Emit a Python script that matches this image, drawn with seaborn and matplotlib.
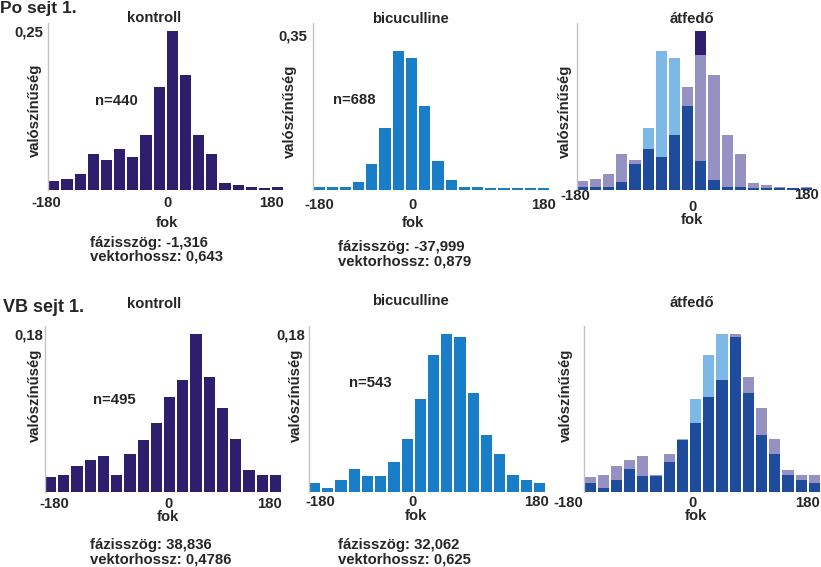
import numpy as np
import matplotlib
matplotlib.use("Agg")
import matplotlib.pyplot as plt
import seaborn as sns

# ---------------- data (probability per 20° bin, -180..180) ----------------
bin_centers = np.arange(-170, 180, 20)

kontroll_po = [0.0142, 0.0163, 0.0242, 0.0553, 0.0463, 0.0632, 0.0516, 0.0858, 0.1621,
               0.2500, 0.1816, 0.0858, 0.0568, 0.0105, 0.0074, 0.0047, 0.0026, 0.0042]
bicu_po = [0.0053, 0.0053, 0.0053, 0.0166, 0.0575, 0.1383, 0.3145, 0.2986, 0.1897,
           0.0650, 0.0204, 0.0060, 0.0060, 0.0023, 0.0023, 0.0023, 0.0023, 0.0023]
kontroll_vb = [0.0160, 0.0191, 0.0294, 0.0358, 0.0408, 0.0191, 0.0427, 0.0587, 0.0782,
               0.1083, 0.1278, 0.1800, 0.1304, 0.0953, 0.0599, 0.0244, 0.0191, 0.0191]
bicu_vb = [0.0095, 0.0038, 0.0130, 0.0256, 0.0172, 0.0172, 0.0332, 0.0603, 0.1056,
           0.1564, 0.1800, 0.1762, 0.1121, 0.0645, 0.0427, 0.0191, 0.0130, 0.0095]

row_titles = ["Po sejt 1.", "VB sejt 1."]
panel_titles = ["kontroll", "bicuculline", "átfedő"]
n_labels = {"po": ["n=440", "n=688"], "vb": ["n=495", "n=543"]}
ytick_vals = {"po": [0.25, 0.35], "vb": [0.18, 0.18]}
ytick_texts = {"po": ["0,25", "0,35"], "vb": ["0,18", "0,18"]}
stats_po = [("fázisszög: -1,316", "vektorhossz: 0,643"), ("fázisszög: -37,999", "vektorhossz: 0,879")]
stats_vb = [("fázisszög: 38,836", "vektorhossz: 0,4786"), ("fázisszög: 32,062", "vektorhossz: 0,625")]
xtick_texts = ["-180", "0", "180"]

# ---------------- style ----------------
sns.set_theme(style="white")
plt.rcParams["font.family"] = ["Liberation Sans", "DejaVu Sans"]
plt.rcParams["font.weight"] = "bold"
FS = 10.7

C_KON = "#2d1f6e"
C_BIC = "#1a7dc8"
C_LAV = "#9691c3"
C_LB = "#7db9e6"
C_DARK = "#1e4b9b"
C_SPINE = "#c4c4c4"

W, H = 821, 567
fig = plt.figure(figsize=(W / 100, H / 100), dpi=100)
fig.patch.set_facecolor("white")


def add_ax(left, top, right, bottom):
    return fig.add_axes([left / W, 1 - bottom / H, (right - left) / W, (bottom - top) / H])


def bars(ax, heights, color):
    sns.barplot(x=bin_centers, y=heights, native_scale=True, width=0.85, color=color,
                saturation=1, errorbar=None, ax=ax, linewidth=0)


def style(ax, ytop):
    ax.set_xlim(-178.5, 178.5)
    ax.set_ylim(0, ytop)
    for s in ["top", "right", "bottom"]:
        ax.spines[s].set_visible(False)
    ax.spines["left"].set_color(C_SPINE)
    ax.spines["left"].set_linewidth(1.0)
    ax.set_xticks([])
    ax.set_yticks([])
    ax.grid(False)
    ax.set_facecolor("white")


def xticklabels(ax, xs, dys):
    for lab, xd, dy in zip(xtick_texts, xs, dys):
        ax.annotate(lab, xy=(xd, 0), xycoords=("data", "axes fraction"),
                    xytext=(0, -dy * 0.72), textcoords="offset points",
                    ha="center", va="center", fontsize=FS, fontweight="bold")


def fok(ax, xd, dy):
    ax.set_xlabel("fok", fontsize=FS, fontweight="bold", va="center")
    ax.xaxis.set_label_coords((xd + 178.5) / 357, -dy / (ax.bbox.height))


def ylab(ax, xpx, yfrac):
    ax.set_ylabel("valószínűség", fontsize=FS, fontweight="bold")
    ax.yaxis.set_label_coords(xpx / ax.bbox.width, yfrac)


def ytick(ax, val, txt, pad_px):
    ax.set_yticks([val])
    ax.set_yticklabels([txt], fontsize=FS, fontweight="bold")
    ax.tick_params(axis="y", length=0, pad=pad_px * 0.72)


def overlay(ax, k, b, kt, bt, veil):
    kf = np.array(k) / kt
    bf = np.array(b) / bt
    cap = np.where(kf > veil, kf, 0)
    lav = np.where(kf > bf, np.minimum(kf, veil), 0)
    lb = np.where(bf >= kf, bf, 0)
    dark = np.minimum(kf, bf)
    bars(ax, cap, C_KON)
    bars(ax, lav, C_LAV)
    bars(ax, lb, C_LB)
    bars(ax, dark, C_DARK)


# ---------------- top row: Po sejt 1. ----------------
YT_K_PO, YT_B_PO = 0.263, 0.377
ax1 = add_ax(48.3, 23, 283.3, 189.5)
bars(ax1, kontroll_po, C_KON)
style(ax1, YT_K_PO)
ytick(ax1, ytick_vals["po"][0], ytick_texts["po"][0], 5)
ylab(ax1, -6.3, 0.477)
xticklabels(ax1, [-181, 3, 160], [13.5, 13.5, 13.5])
fok(ax1, 2, 33.5)
ax1.text(-75, 0.531, n_labels["po"][0], transform=ax1.get_xaxis_transform(),
         ha="center", va="center", fontsize=FS, fontweight="bold")
ax1.set_title(panel_titles[0], x=0.451, y=1.0, pad=1, fontsize=FS, fontweight="bold")

ax2 = add_ax(313.3, 23, 549.3, 189.5)
bars(ax2, bicu_po, C_BIC)
style(ax2, YT_B_PO)
ytick(ax2, ytick_vals["po"][1], ytick_texts["po"][1], 6)
ylab(ax2, -16.3, 0.471)
xticklabels(ax2, [-169, -28, 169], [15.5, 15.5, 15.5])
fok(ax2, -28.5, 33.5)
ax2.text(-116, 0.5375, n_labels["po"][1], transform=ax2.get_xaxis_transform(),
         ha="center", va="center", fontsize=FS, fontweight="bold")
ax2.set_title(panel_titles[1], x=0.41, y=1.0, pad=0, fontsize=FS, fontweight="bold")

ax3 = add_ax(576.7, 23, 811.7, 189.5)
overlay(ax3, kontroll_po, bicu_po, YT_K_PO, YT_B_PO, 0.805)
style(ax3, 1.0)
ylab(ax3, -4.7, 0.471)
xticklabels(ax3, [-180, -3, 171], [7, 17.5, 5.5])
fok(ax3, -3, 31)
ax3.set_title(panel_titles[2], x=0.49, y=1.0, pad=0, fontsize=FS, fontweight="bold")

fig.text(0.0 / W, 1 - 12.7 / H, row_titles[0], ha="left", va="baseline",
         fontsize=12.5, fontweight="bold")

for (l1, l2), x, y1, y2 in zip(stats_po, [90, 338], [243.5, 246.5], [256.5, 261.5]):
    fig.text(x / W, 1 - y1 / H, l1, ha="left", va="center", fontsize=FS, fontweight="bold")
    fig.text(x / W, 1 - y2 / H, l2, ha="left", va="center", fontsize=FS, fontweight="bold")

# ---------------- bottom row: VB sejt 1. ----------------
YT_VB = 0.189
ax4 = add_ax(45, 326, 281, 491.5)
bars(ax4, kontroll_vb, C_KON)
style(ax4, YT_VB)
ytick(ax4, ytick_vals["vb"][0], ytick_texts["vb"][0], 2)
ylab(ax4, -3, 0.583)
xticklabels(ax4, [-165, 9, 161], [12.5, 12.5, 12.5])
fok(ax4, 8, 25.5)
ax4.text(-73, 0.553, n_labels["vb"][0], transform=ax4.get_xaxis_transform(),
         ha="center", va="center", fontsize=FS, fontweight="bold")
ax4.set_title(panel_titles[0], x=0.462, y=1.109, pad=0, fontsize=FS, fontweight="bold")

ax5 = add_ax(309, 326, 545, 491.5)
bars(ax5, bicu_vb, C_BIC)
style(ax5, YT_VB)
ytick(ax5, ytick_vals["vb"][1], ytick_texts["vb"][1], 4)
ylab(ax5, -6, 0.583)
xticklabels(ax5, [-162, -22, 165], [11, 11, 11])
fok(ax5, -16, 24.5)
ax5.text(-85, 0.654, n_labels["vb"][1], transform=ax5.get_xaxis_transform(),
         ha="center", va="center", fontsize=FS, fontweight="bold")
ax5.set_title(panel_titles[1], x=0.43, y=1.127, pad=0, fontsize=FS, fontweight="bold")

ax6 = add_ax(584.3, 326, 820, 491.5)
overlay(ax6, kontroll_vb, bicu_vb, YT_VB, YT_VB, np.inf)
style(ax6, YT_VB / YT_VB)
ylab(ax6, -11.3, 0.583)
xticklabels(ax6, [-203, -15, 160], [11.5, 11.5, 11.5])
fok(ax6, -10, 24.5)
ax6.set_title(panel_titles[2], x=0.455, y=1.115, pad=0, fontsize=FS, fontweight="bold")

fig.text(3 / W, 1 - 311.7 / H, row_titles[1], ha="left", va="baseline",
         fontsize=13, fontweight="bold")

for (l1, l2), x, y1, y2 in zip(stats_vb, [90, 338], [545.0, 544.5], [560.0, 559.5]):
    fig.text(x / W, 1 - y1 / H, l1, ha="left", va="center", fontsize=FS, fontweight="bold")
    fig.text(x / W, 1 - y2 / H, l2, ha="left", va="center", fontsize=FS, fontweight="bold")

fig.savefig("out.png", dpi=100, facecolor="white")
